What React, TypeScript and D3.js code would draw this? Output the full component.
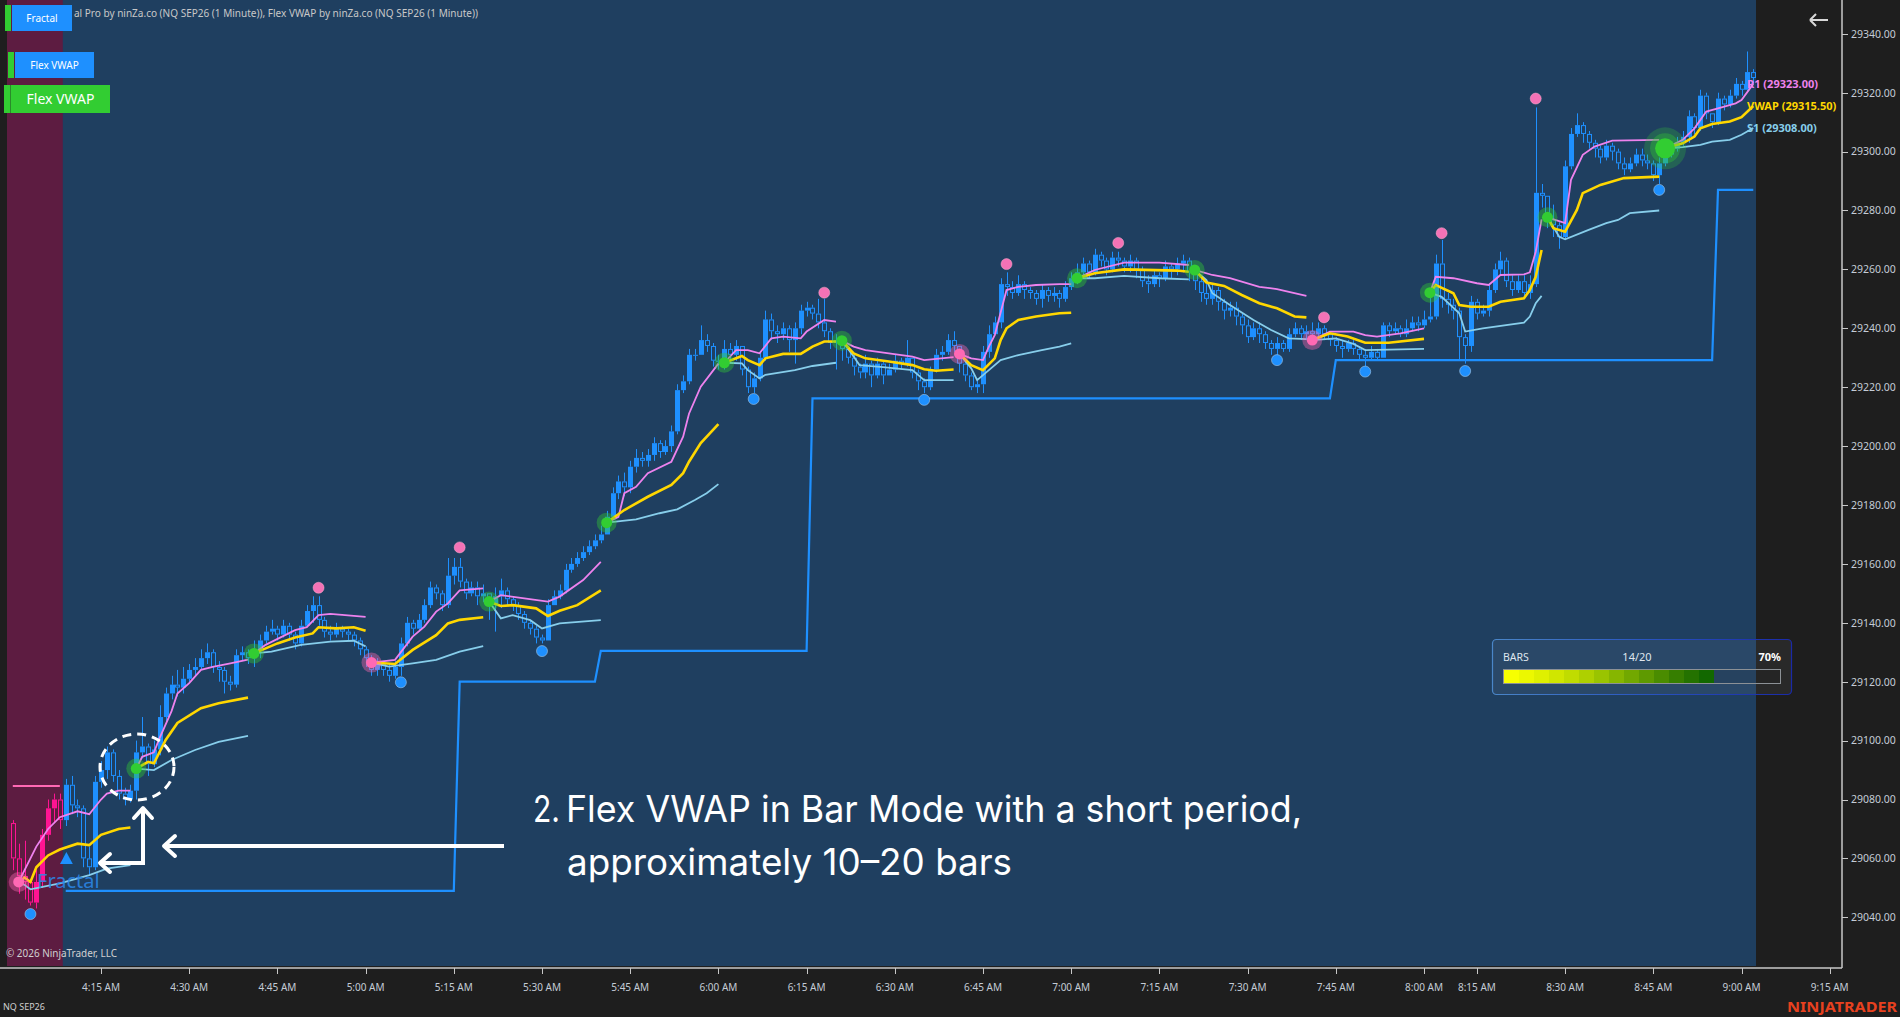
import React, { useEffect } from 'react';
import * as d3 from 'd3';

// ---------- DATA ----------
const FIRST_OPEN = 29072;
const closes = [
  29060,29054,29052,29045,29052,29068,29077,29080,29073,29085,
  29078,29077,29060,29057,29086,29090,29096,29088,29082,29080,
  29083,29096,29098,29092,29097,29108,29116,29119,29118,29121,
  29124,29125,29128,29130,29125,29124,29120,29119,29129,29130,
  29128,29131,29134,29137,29138,29136,29139,29136,29133,29139,
  29144,29146,29141,29137,29136,29138,29137,29136,29134,29131,
  29128,29124,29126,29124,29122,29125,29133,29140,29138,29141,
  29146,29152,29150,29146,29156,29159,29154,29150,29152,29149,
  29150,29146,29149,29151,29148,29146,29143,29140,29138,29135,
  29134,29146,29149,29151,29158,29160,29162,29164,29166,29168,
  29170,29176,29184,29188,29186,29193,29196,29195,29197,29201,
  29198,29200,29205,29219,29222,29231,29231,29236,29234,29229,
  29229,29233,29231,29234,29226,29220,29223,29230,29243,29239,
  29238,29240,29236,29240,29246,29247,29245,29242,29239,29235,
  29236,29233,29230,29227,29225,29228,29224,29228,29224,29226,
  29229,29228,29230,29225,29222,29220,29226,29231,29232,29236,
  29234,29228,29224,29220,29221,29232,29238,29242,29255,29254,
  29252,29255,29253,29252,29250,29253,29251,29252,29250,29254,
  29257,29259,29262,29259,29265,29263,29260,29264,29263,29261,
  29263,29260,29256,29255,29258,29257,29261,29260,29262,29263,
  29259,29256,29252,29250,29253,29249,29246,29247,29244,29241,
  29237,29240,29238,29235,29233,29235,29233,29238,29240,29238,
  29239,29238,29240,29238,29236,29234,29233,29235,29233,29231,
  29230,29232,29230,29241,29239,29240,29238,29240,29242,29241,
  29243,29244,29262,29250,29248,29246,29237,29234,29249,29245,
  29246,29253,29260,29263,29256,29253,29256,29252,29255,29286,
  29285,29277,29275,29271,29295,29306,29309,29306,29303,29301,
  29298,29302,29300,29296,29294,29296,29299,29297,29296,29292,
  29296,29299,29301,29303,29305,29312,29308,29319,29313,29310,
  29318,29316,29319,29323,29321,29327,29325,
];
const highs = [
  29073,29065,29066,29053,29056,29070,29080,29082,29082,29087,
  29088,29080,29078,29064,29088,29093,29098,29097,29090,29084,
  29085,29100,29108,29099,29100,29112,29118,29122,29124,29125,
  29126,29128,29131,29133,29131,29127,29125,29122,29131,29132,
  29131,29134,29136,29139,29141,29139,29141,29140,29137,29141,
  29146,29149,29149,29142,29139,29140,29139,29138,29137,29135,
  29132,29129,29128,29127,29126,29127,29135,29142,29141,29143,
  29148,29154,29153,29151,29162,29162,29162,29155,29154,29154,
  29153,29149,29152,29155,29152,29149,29147,29144,29141,29139,
  29136,29148,29151,29153,29160,29162,29164,29166,29168,29170,
  29173,29178,29186,29190,29191,29195,29199,29198,29199,29203,
  29202,29202,29207,29221,29224,29233,29233,29241,29238,29235,
  29231,29236,29235,29236,29234,29227,29225,29232,29246,29245,
  29241,29242,29241,29242,29248,29249,29248,29250,29250,29240,
  29238,29236,29234,29231,29228,29231,29229,29230,29229,29228,
  29231,29230,29236,29230,29226,29223,29227,29233,29234,29238,
  29239,29232,29229,29225,29223,29234,29241,29244,29257,29259,
  29256,29258,29256,29254,29253,29255,29254,29254,29253,29256,
  29259,29262,29264,29263,29267,29266,29264,29266,29266,29264,
  29265,29264,29261,29258,29260,29259,29263,29262,29264,29265,
  29264,29260,29257,29255,29255,29254,29250,29249,29249,29245,
  29243,29242,29242,29239,29236,29237,29236,29240,29242,29241,
  29241,29242,29242,29241,29239,29237,29236,29236,29236,29234,
  29233,29234,29233,29242,29242,29242,29241,29243,29244,29244,
  29246,29251,29265,29270,29252,29250,29247,29238,29251,29250,
  29248,29255,29262,29266,29264,29258,29258,29258,29258,29315,
  29289,29285,29282,29276,29297,29308,29313,29310,29307,29304,
  29302,29304,29303,29301,29298,29298,29301,29301,29299,29297,
  29298,29302,29303,29305,29307,29314,29313,29321,29320,29313,
  29320,29319,29321,29325,29324,29334,29328,
];
const lows = [
  29056,29048,29046,29044,29043,29050,29066,29072,29070,29071,
  29075,29074,29057,29054,29056,29084,29087,29086,29080,29078,
  29079,29080,29094,29088,29091,29095,29106,29114,29115,29116,
  29120,29122,29124,29126,29123,29120,29116,29117,29118,29127,
  29126,29125,29128,29133,29136,29134,29135,29134,29131,29132,
  29139,29140,29139,29135,29134,29135,29135,29134,29132,29129,
  29125,29122,29122,29122,29120,29121,29122,29132,29136,29137,
  29140,29145,29148,29144,29145,29153,29152,29148,29149,29146,
  29147,29141,29137,29145,29146,29144,29141,29138,29136,29133,
  29133,29134,29146,29148,29150,29157,29159,29161,29163,29165,
  29167,29170,29175,29182,29183,29184,29191,29193,29193,29195,
  29196,29197,29198,29204,29218,29221,29229,29231,29232,29227,
  29226,29226,29229,29229,29224,29218,29218,29222,29229,29236,
  29235,29236,29232,29228,29238,29244,29243,29240,29237,29233,
  29226,29229,29228,29224,29223,29223,29220,29223,29221,29224,
  29225,29226,29227,29223,29219,29218,29219,29225,29229,29231,
  29232,29225,29222,29219,29218,29218,29230,29238,29240,29251,
  29250,29251,29250,29250,29248,29247,29249,29249,29247,29249,
  29253,29255,29257,29257,29258,29261,29258,29259,29261,29259,
  29259,29257,29254,29252,29254,29254,29256,29257,29258,29259,
  29256,29253,29249,29248,29248,29246,29243,29244,29241,29238,
  29235,29236,29235,29233,29231,29231,29232,29232,29237,29236,
  29236,29235,29236,29236,29234,29232,29230,29232,29231,29229,
  29227,29229,29229,29230,29237,29238,29237,29237,29239,29239,
  29240,29242,29243,29247,29245,29243,29229,29228,29232,29243,
  29244,29244,29252,29258,29254,29251,29252,29250,29250,29254,
  29281,29274,29271,29267,29270,29294,29305,29303,29301,29298,
  29296,29297,29297,29294,29292,29293,29295,29295,29294,29290,
  29289,29295,29298,29300,29302,29303,29306,29307,29311,29308,
  29309,29314,29315,29318,29319,29320,29323,
];
const PINK_ZONE_LAST_BAR = 8;

const swingHighDots = [[52,29151.9],[76,29165.6],[138,29252.1],[169,29261.8],[188,29269],[223,29243.7],[243,29272.3],[259,29318]];
const swingLowDots = [[3,29041.1],[66,29119.8],[90,29130.4],[126,29216],[155,29215.7],[215,29229.2],[230,29225.3],[247,29225.5],[280,29287]];
// [bar, price, kind, big]
const segmentMarkers: [number, number, string, boolean][] = [
  [1,29052,'pink',false],[21,29090.5,'green',false],[41,29129.6,'green',false],[61,29126.5,'pink',false],
  [81,29147.2,'green',false],[101,29174,'green',false],[121,29228.3,'green',false],[141,29235.8,'green',false],
  [161,29231.3,'pink',false],[181,29257,'green',false],[201,29259.8,'green',false],[221,29236,'pink',false],
  [241,29252.1,'green',false],[261,29277.7,'green',false],[281,29301.1,'green',true],
];

const upperBand = [
  [[1,29052],[2,29056],[4,29064],[6,29070],[8,29074],[11,29076],[13,29075],[15,29080],[16,29082],[18,29083],[20,29083]],
  [[21,29090.5],[22,29094.5],[24,29096],[25,29101],[27,29110],[28,29116],[30,29119.5],[32,29124],[34,29125],[37,29126.2],[40,29127.5]],
  [[41,29129.6],[43,29132.5],[48,29137.5],[50,29138.5],[52,29142.6],[54,29143],[60,29142]],
  [[61,29126.5],[65,29127.4],[68,29135.3],[70,29138.7],[72,29143.8],[74,29146.6],[76,29151],[80,29151.7]],
  [[81,29147.2],[83,29149.4],[87,29148.3],[91,29147.2],[93,29148.9],[97,29154.5],[100,29160.7]],
  [[101,29174],[103,29176],[104,29184],[106,29186.2],[108,29190.8],[112,29194.7],[114,29203.2],[115,29211],[117,29220.2],[120,29228]],
  [[121,29228.3],[123,29232.6],[125,29232.6],[127,29231.5],[129,29236.6],[131,29237.2],[134,29236.6],[135,29238.9],[138,29242.8],[140,29242.3]],
  [[141,29235.8],[143,29233.8],[145,29232.6],[149,29231.5],[153,29230.4],[155,29229.2],[160,29230.2]],
  [[161,29231.3],[163,29229.8],[165,29229.2],[166,29233.8],[167,29237.7],[169,29253],[171,29254.1],[174,29254.7],[178,29255],[180,29255]],
  [[181,29257],[184,29259.8],[189,29262.3],[195,29262.3],[200,29261.5]],
  [[201,29259.8],[204,29258.1],[207,29257],[212,29254.1],[215,29253.3],[220,29251]],
  [[221,29236],[224,29238.9],[228,29238.9],[230,29237.7],[232,29237.2],[236,29238.3],[240,29240]],
  [[241,29252.1],[242,29257.5],[245,29257],[249,29255.3],[251,29254.7],[253,29258.1],[257,29258.3],[258,29259],[259,29266],[260,29277]],
  [[261,29277.7],[264,29275.7],[265,29290.4],[267,29298.9],[269,29301.7],[272,29303.7],[280,29304]],
  [[281,29301.1],[284,29304],[286,29307.9],[288,29313.6],[290,29314.7],[293,29316.4],[294,29317.5],[296,29323]],
];
const vwapLine = [
  [[1,29052],[2,29053.5],[3,29052],[4,29057],[6,29061],[8,29063],[11,29065],[13,29064.5],[15,29068],[18,29070],[20,29070.5]],
  [[21,29090.5],[23,29092.8],[24,29092.3],[26,29100.2],[28,29106],[32,29111],[35,29112.7],[40,29114.6]],
  [[41,29129.6],[45,29133],[48,29135],[51,29136.4],[52,29138.5],[55,29138.1],[58,29138.5],[60,29137.3]],
  [[61,29126.5],[65,29126],[68,29130.8],[72,29135.8],[74,29139.8],[76,29141],[80,29141.9]],
  [[81,29147.2],[83,29145.7],[85,29146],[89,29144.9],[91,29142.3],[93,29144.1],[96,29146],[100,29151]],
  [[101,29174],[104,29178.3],[108,29182.8],[112,29186.8],[114,29190.8],[115,29194.7],[117,29201],[120,29207.5]],
  [[121,29228.3],[124,29230.6],[125,29229.2],[127,29227.5],[128,29229.8],[131,29231.3],[134,29231.3],[136,29233.8],[138,29235.5],[140,29235.5]],
  [[141,29235.8],[143,29231.5],[145,29229.8],[149,29228.7],[153,29227.5],[155,29226.1],[157,29225.6],[160,29226]],
  [[161,29231.3],[163,29227.5],[165,29225.8],[167,29229.8],[168,29236],[169,29240],[171,29242.8],[174,29244],[178,29245.1],[180,29245.3]],
  [[181,29257],[184,29258.7],[189,29260],[198,29259.6],[200,29259.2]],
  [[201,29259.8],[203,29255.5],[206,29254.4],[209,29251.3],[212,29248.5],[215,29246.8],[218,29244],[220,29243.7]],
  [[221,29236],[224,29238.3],[227,29237.2],[230,29235.1],[234,29235.1],[240,29236.4]],
  [[241,29252.1],[242,29254.7],[245,29251.9],[246,29247.9],[248,29247.3],[251,29247.3],[253,29249],[257,29250.2],[258,29253],[259,29257.5],[260,29266.6]],
  [[261,29277.7],[262,29274],[264,29272.8],[266,29280.2],[267,29285.9],[270,29288.7],[274,29291],[280,29291.5]],
  [[281,29301.1],[284,29302.8],[286,29305.1],[287,29307.9],[289,29309.4],[292,29310.2],[294,29311.7],[296,29315.5]],
];
const lowerBand = [
  [[1,29052],[2,29051],[3,29049.5],[8,29051.5],[13,29054.3],[16,29056.5],[20,29057.7]],
  [[21,29090.5],[24,29090],[27,29093.4],[31,29096.8],[35,29099.6],[40,29101.6]],
  [[41,29129.6],[44,29130.2],[49,29132.5],[54,29133.6],[58,29133.9],[60,29132]],
  [[61,29126.5],[64,29125.1],[68,29126.2],[72,29127.4],[76,29130.2],[80,29132.1]],
  [[81,29147.2],[83,29141.5],[85,29142.6],[88,29140.9],[90,29138.1],[93,29139.8],[100,29140.9]],
  [[101,29174],[106,29175.1],[110,29177.2],[113,29178.5],[116,29181.7],[118,29184],[120,29187.1]],
  [[121,29228.3],[124,29228.1],[125,29225.8],[127,29223],[128,29224.2],[133,29225.8],[136,29227.2],[140,29228.3]],
  [[141,29235.8],[143,29230.4],[144,29227.5],[148,29226.8],[153,29225.8],[155,29222.4],[160,29222.4]],
  [[161,29231.3],[163,29226.4],[164,29222.4],[166,29225.8],[168,29229.2],[171,29230.9],[175,29232.6],[178,29233.8],[180,29234.9]],
  [[181,29257],[184,29257],[189,29257.8],[195,29257],[200,29256.6]],
  [[201,29259.8],[203,29256.4],[204,29251.9],[207,29247.9],[211,29242.8],[214,29239.4],[217,29236.6],[220,29236.3]],
  [[221,29236],[225,29236.6],[228,29234.7],[230,29232.6],[240,29233]],
  [[241,29252.1],[243,29250.7],[246,29245.1],[247,29238.9],[250,29240],[257,29241.9],[258,29244],[259,29248.5],[260,29251]],
  [[261,29277.7],[263,29271.1],[264,29270.2],[268,29273.4],[271,29275.7],[273,29276.8],[275,29279.1],[280,29280]],
  [[281,29301.1],[284,29301.5],[287,29302.3],[289,29303.4],[292,29304],[294,29305.7],[296,29308]],
];
// [startBar, endBar, price]
const stepLevels = [[9,75,29049],[76,99,29120],[100,135,29130.5],[136,224,29216.2],[225,289,29229.2],[290,296,29287]];
const priorLevel = [0, 8, 29084.6];

const timeTickBars = [15,30,45,60,75,90,105,120,135,150,165,180,195,210,225,240,249,264,279,294,309];
const timeTickLabels = ['4:15 AM','4:30 AM','4:45 AM','5:00 AM','5:15 AM','5:30 AM','5:45 AM','6:00 AM','6:15 AM','6:30 AM','6:45 AM','7:00 AM','7:15 AM','7:30 AM','7:45 AM','8:00 AM','8:15 AM','8:30 AM','8:45 AM','9:00 AM','9:15 AM'];
const priceTicks = [29040,29060,29080,29100,29120,29140,29160,29180,29200,29220,29240,29260,29280,29300,29320,29340];

const lastLabels: [string, number, string][] = [['R1', 29323.0, '#ee82ee'], ['VWAP', 29315.5, '#ffd700'], ['S1', 29308.0, '#87ceeb']];
const barsCount = 14;
const barsTotal = 20;
const progressColors = ['#f7ff00','#ecf800','#dff000','#d0e600','#c0dc00','#aed000','#9ac400','#86b600','#72a800','#5e9a00','#4a8c00','#367e00','#247200','#126800'];

// ---------- COMPONENT ----------
const AXIS_FONT = "'Noto Sans', 'Open Sans', sans-serif";

export default function App() {
  useEffect(() => {
    document.body.style.margin = '0';
    document.body.style.overflow = 'hidden';
  }, []);

  const BAR_W = 5.88;
  const x = d3.scaleLinear().domain([0, 300]).range([12.8, 12.8 + 300 * BAR_W]);
  const y = d3.scaleLinear().domain([29040, 29340]).range([917.3, 33.8]);
  const line = d3.line<number[]>().x(d => x(d[0])).y(d => y(d[1]));

  const plotLeft = 7, plotRight = 1756, plotBottom = 966, axisX = 1842, axisY = 968;

  const candles = closes.map((c, i) => {
    const o = i === 0 ? FIRST_OPEN : closes[i - 1];
    const up = c >= o;
    const color = i <= PINK_ZONE_LAST_BAR ? '#ff1493' : '#1e90ff';
    const cx = Math.round(x(i)) + 0.5;
    const yTop = y(Math.max(o, c));
    const yBot = y(Math.min(o, c));
    const yHigh = y(Math.max(highs[i], o, c));
    const yLow = y(Math.min(lows[i], o, c));
    const h = Math.max(1, yBot - yTop);
    return (
      <g key={i}>
        <line x1={cx} x2={cx} y1={yHigh} y2={yTop} stroke={color} strokeWidth={1} />
        <line x1={cx} x2={cx} y1={yTop + h} y2={yLow} stroke={color} strokeWidth={1} />
        {up ? (
          <rect x={cx - 2.5} y={yTop} width={5} height={h} fill={color} />
        ) : (
          <rect x={cx - 2} y={yTop + 0.5} width={4} height={Math.max(0.5, h - 1)} fill="none" stroke={color} strokeWidth={1} />
        )}
      </g>
    );
  });

  const stepPts: number[][] = [];
  stepLevels.forEach(([s, e, p]) => { stepPts.push([s, p]); stepPts.push([e, p]); });

  const barsX0 = 1504, segW = 15;

  return (
    <svg width={1900} height={1017} style={{ position: 'absolute', left: 0, top: 0, display: 'block' }}>
      <defs>
        <linearGradient id="panelStroke" x1="0" x2="1" y1="0" y2="0">
          <stop offset="0" stopColor="#4a86c8" />
          <stop offset="0.5" stopColor="#2a56c0" />
          <stop offset="1" stopColor="#1a2aa8" />
        </linearGradient>
      </defs>
      {/* backgrounds */}
      <rect x={0} y={0} width={1900} height={1017} fill="#1e1e1e" />
      <rect x={plotLeft} y={0} width={plotRight - plotLeft} height={plotBottom} fill="#1f3f60" />
      <rect x={plotLeft} y={0} width={x(PINK_ZONE_LAST_BAR) + BAR_W / 2 - plotLeft} height={plotBottom} fill="#5d1c41" />

      {/* header text (its start is hidden behind the Fractal button) */}
      <text x={74} y={17} fontSize={11} fill="#c8c8c8" fontFamily={AXIS_FONT} textLength={404} lengthAdjust="spacingAndGlyphs">al Pro by ninZa.co (NQ SEP26 (1 Minute)), Flex VWAP by ninZa.co (NQ SEP26 (1 Minute))</text>

      {/* step line */}
      <path d={line(stepPts) || ''} fill="none" stroke="#1e90ff" strokeWidth={2.2} />
      <line x1={x(priorLevel[0])} x2={x(priorLevel[1])} y1={y(priorLevel[2])} y2={y(priorLevel[2])} stroke="#ff69b4" strokeWidth={2} />

      {/* candles */}
      {candles}

      {/* bands */}
      {lowerBand.map((seg, k) => <path key={'l' + k} d={line(seg) || ''} fill="none" stroke="#87ceeb" strokeWidth={1.8} />)}
      {upperBand.map((seg, k) => <path key={'u' + k} d={line(seg) || ''} fill="none" stroke="#ee82ee" strokeWidth={1.8} />)}
      {vwapLine.map((seg, k) => <path key={'v' + k} d={line(seg) || ''} fill="none" stroke="#ffd700" strokeWidth={2.6} />)}

      {/* swing dots */}
      {swingHighDots.map(([b, p], k) => <circle key={'h' + k} cx={x(b)} cy={y(p)} r={5.5} fill="#f472b6" stroke="#ffb0d0" strokeOpacity={0.5} strokeWidth={1} />)}
      {swingLowDots.map(([b, p], k) => <circle key={'d' + k} cx={x(b)} cy={y(p)} r={5.5} fill="#1e90ff" stroke="#9ec4e8" strokeOpacity={0.6} strokeWidth={1} />)}

      {/* segment markers */}
      {segmentMarkers.map(([b, p, kind, big], k) => {
        const col = kind === 'green' ? '#32cd32' : '#ff69b4';
        return big ? (
          <g key={'m' + k}>
            <circle cx={x(b)} cy={y(p)} r={21} fill={col} opacity={0.25} />
            <circle cx={x(b)} cy={y(p)} r={15} fill={col} opacity={0.35} />
            <circle cx={x(b)} cy={y(p)} r={10} fill={col} />
          </g>
        ) : (
          <g key={'m' + k}>
            <circle cx={x(b)} cy={y(p)} r={10} fill={col} opacity={0.4} />
            <circle cx={x(b)} cy={y(p)} r={5.5} fill={col} />
          </g>
        );
      })}

      {/* Fractal signal */}
      <polygon points={`${66.4},${852} ${60},${864} ${72.8},${864}`} fill="#1e90ff" />
      <text x={37} y={888} fontSize={20} fill="#2b86e6" fillOpacity={0.9} fontFamily={AXIS_FONT}>Fractal</text>

      {/* annotation */}
      <ellipse cx={137} cy={767} rx={37} ry={33} fill="none" stroke="#ffffff" strokeWidth={3} strokeDasharray="9 6" />
      <path d="M100,863 H143 V808" fill="none" stroke="#ffffff" strokeWidth={4} />
      <polyline points="110,854 100,863 110,872" fill="none" stroke="#ffffff" strokeWidth={4} strokeLinecap="round" strokeLinejoin="round" />
      <polyline points="134,818 143,808 152,818" fill="none" stroke="#ffffff" strokeWidth={4} strokeLinecap="round" strokeLinejoin="round" />
      <line x1={165} x2={504} y1={846} y2={846} stroke="#ffffff" strokeWidth={4} />
      <polyline points="175,836 164,846 175,856" fill="none" stroke="#ffffff" strokeWidth={4} strokeLinecap="round" strokeLinejoin="round" />
      <text x={533} y={822} fontSize={37} fill="#ffffff" fontFamily="Inter, sans-serif" textLength={27} lengthAdjust="spacingAndGlyphs">2.</text>
      <text x={566} y={822} fontSize={37} fill="#ffffff" fontFamily="Inter, sans-serif" textLength={736} lengthAdjust="spacingAndGlyphs">Flex VWAP in Bar Mode with a short period,</text>
      <text x={567} y={875} fontSize={37} fill="#ffffff" fontFamily="Inter, sans-serif" textLength={445} lengthAdjust="spacingAndGlyphs">approximately 10–20 bars</text>

      {/* last value labels */}
      {lastLabels.map(([name, v, col]) => (
        <text key={name} x={1747} y={y(v) + 4} fontSize={11} fontWeight="bold" fill={col} fontFamily={AXIS_FONT}>{`${name} (${v.toFixed(2)})`}</text>
      ))}

      {/* BARS panel */}
      <rect x={1492.5} y={639.5} width={299} height={55} rx={4} fill="rgba(255,255,255,0.05)" stroke="url(#panelStroke)" strokeWidth={1.2} />
      <text x={1503} y={661} fontSize={10.5} fill="#dfe6ee" fontFamily={AXIS_FONT}>BARS</text>
      <text x={1637} y={661} fontSize={11} fill="#dfe6ee" fontFamily={AXIS_FONT} textAnchor="middle">{`${barsCount}/${barsTotal}`}</text>
      <text x={1781} y={661} fontSize={11} fontWeight="bold" fill="#ffffff" fontFamily={AXIS_FONT} textAnchor="end">{`${Math.round(barsCount / barsTotal * 100)}%`}</text>
      <rect x={1503.5} y={669.5} width={277} height={14} fill="rgba(0,0,0,0.08)" stroke="#8c9196" strokeWidth={1} />
      {progressColors.slice(0, barsCount).map((c, k) => (
        <rect key={'p' + k} x={barsX0 + k * segW} y={670} width={segW} height={13} fill={c} />
      ))}

      {/* top-left buttons */}
      <rect x={5} y={5} width={6} height={26} fill="#32cd32" />
      <rect x={12} y={5} width={60} height={26} fill="#1e90ff" />
      <text x={42} y={21.5} fontSize={10} fill="#ffffff" fontFamily={AXIS_FONT} textAnchor="middle">Fractal</text>
      <rect x={8} y={52} width={6} height={26} fill="#32cd32" />
      <rect x={15} y={52} width={79} height={26} fill="#1e90ff" />
      <text x={54.5} y={68.5} fontSize={10} fill="#ffffff" fontFamily={AXIS_FONT} textAnchor="middle">Flex VWAP</text>
      <rect x={4} y={85} width={6} height={28} fill="#32cd32" />
      <rect x={11} y={85} width={99} height={28} fill="#32cd32" />
      <line x1={10.5} x2={10.5} y1={85} y2={113} stroke="#2a8a2a" strokeWidth={1} />
      <text x={60.5} y={104} fontSize={14} fill="#ffffff" fontFamily={AXIS_FONT} textAnchor="middle">Flex VWAP</text>

      {/* copyright */}
      <text x={6} y={957} fontSize={11} fill="#d0d0d0" fontFamily={AXIS_FONT} textLength={111} lengthAdjust="spacingAndGlyphs">© 2026 NinjaTrader, LLC</text>

      {/* axes */}
      <line x1={0} x2={axisX} y1={axisY} y2={axisY} stroke="#c8c8c8" strokeWidth={1.5} />
      <line x1={axisX} x2={axisX} y1={0} y2={axisY} stroke="#c8c8c8" strokeWidth={1.5} />
      {timeTickBars.map((b, k) => (
        <g key={'t' + k}>
          <line x1={Math.round(x(b)) + 0.5} x2={Math.round(x(b)) + 0.5} y1={axisY} y2={axisY + 6} stroke="#c8c8c8" strokeWidth={1} />
          <text x={x(b)} y={991} fontSize={10} fill="#c4ccd6" fontFamily={AXIS_FONT} textAnchor="middle">{timeTickLabels[k]}</text>
        </g>
      ))}
      {priceTicks.map(v => (
        <g key={'y' + v}>
          <line x1={axisX} x2={axisX + 6} y1={Math.round(y(v)) + 0.5} y2={Math.round(y(v)) + 0.5} stroke="#c8c8c8" strokeWidth={1} />
          <text x={1851} y={y(v) + 3.8} fontSize={10.5} fill="#c4ccd6" fontFamily={AXIS_FONT}>{v.toFixed(2)}</text>
        </g>
      ))}

      {/* back arrow icon */}
      <path d="M1810,20 H1828 M1810,20 L1816,14 M1810,20 L1816,26" stroke="#d8d8d8" strokeWidth={2} fill="none" />

      <text x={3} y={1010} fontSize={9} fill="#d0d0d0" fontFamily={AXIS_FONT}>NQ SEP26</text>
      <text x={1897} y={1012} fontSize={15} fontWeight="bold" fill="#e8411f" fontFamily={AXIS_FONT} textAnchor="end" textLength={110} lengthAdjust="spacingAndGlyphs">NINJATRADER</text>
    </svg>
  );
}
